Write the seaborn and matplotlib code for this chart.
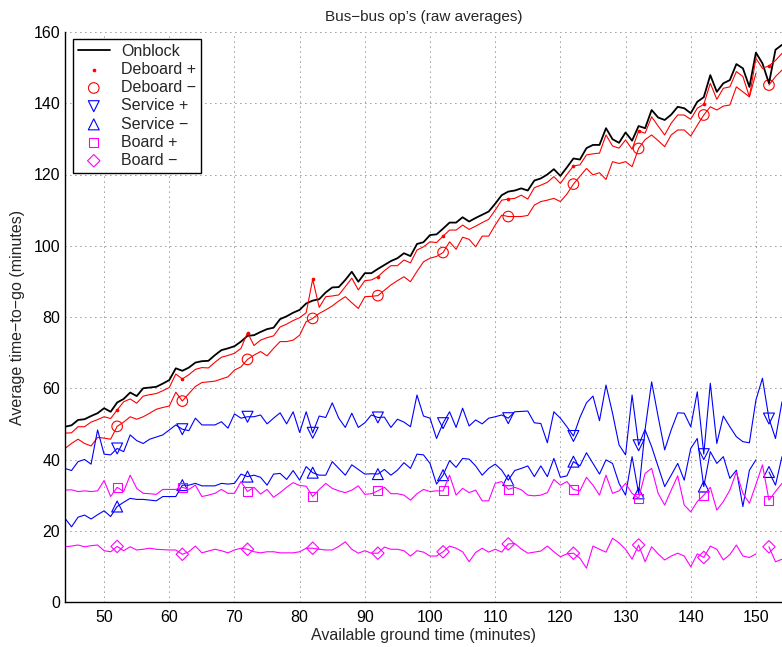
import numpy as np
import seaborn as sns
import matplotlib
matplotlib.use('Agg')
import matplotlib.pyplot as plt

nan = np.nan

# available ground time, one value per minute
minutes = list(range(44, 155))
marker_minutes = list(range(52, 153, 10))

onblock = [49.2, 49.6, 51.1, 51.3, 52.2, 53.0, 54.4, 53.4, 56.0, 57.0,
           58.8, 57.8, 60.0, 60.2, 60.4, 61.3, 62.3, 65.6, 64.9, 65.8,
           67.2, 67.6, 67.7, 69.3, 70.7, 71.2, 71.8, 73.1, 74.7, 74.9,
           75.8, 76.6, 77.0, 79.4, 80.2, 81.2, 82.0, 83.8, 84.6, 85.0,
           86.9, 88.3, 88.4, 90.4, 92.7, 89.9, 92.3, 92.3, 93.5, 94.6,
           95.7, 96.5, 97.9, 97.1, 100.5, 101.0, 103.0, 103.2, 104.8, 106.5,
           106.5, 108.0, 106.8, 107.8, 108.7, 109.6, 111.8, 114.2, 115.2, 115.5,
           116.1, 115.5, 118.3, 118.9, 120.0, 121.5, 119.6, 122.0, 124.5, 124.2,
           127.4, 128.3, 128.3, 133.0, 129.9, 128.9, 131.8, 129.5, 133.6, 133.0,
           138.1, 136.0, 135.3, 136.8, 139.0, 138.6, 137.2, 140.4, 141.7, 147.9,
           143.2, 145.6, 146.5, 151.0, 149.8, 144.6, 154.2, 151.2, 145.6, 155.0,
           156.4]

deboard_plus = [47.4, 47.5, 49.2, 49.2, 50.5, 51.2, 52.0, 51.5, 53.9, 56.2,
                57.0, 55.8, 57.8, 58.2, 58.5, 59.3, 60.2, 64.0, 62.6, 63.8,
                65.3, 65.8, 65.7, 67.3, 68.7, 69.2, 69.8, 71.2, 75.6, 72.0,
                73.5, 74.2, 74.7, 77.2, 78.0, 79.0, 79.8, 81.2, 90.6, 82.7,
                85.7, 85.9, 86.2, 88.5, 90.9, 87.6, 90.2, 90.4, 91.3, 93.0,
                94.4, 94.4, 96.0, 95.2, 98.8, 99.7, 101.1, 100.9, 102.7, 104.4,
                104.4, 105.8, 104.6, 105.5, 106.5, 107.4, 110.0, 112.8, 113.1, 113.3,
                114.2, 113.1, 116.3, 117.0, 117.8, 119.4, 117.5, 120.0, 122.4, 122.7,
                125.5, 125.8, 126.0, 131.1, 128.0, 127.4, 129.7, 127.1, 132.2, 131.6,
                136.2, 133.6, 131.1, 134.4, 136.7, 136.7, 135.5, 138.6, 139.7, 145.6,
                141.1, 144.2, 144.6, 148.9, 147.5, 141.8, 152.6, 149.8, 150.5, 152.0,
                154.0]

deboard_minus = [43.1, 44.5, 45.7, 44.5, 43.8, 46.2, 46.0, 45.7, 49.3, 50.5,
                 52.0, 51.3, 52.0, 53.0, 54.1, 54.6, 55.0, 58.9, 56.4, 58.5,
                 60.5, 61.6, 61.8, 62.0, 62.6, 63.2, 65.1, 66.0, 68.1, 69.3,
                 70.3, 69.1, 71.2, 73.1, 73.1, 73.5, 74.9, 78.7, 79.6, 81.0,
                 82.0, 83.1, 84.5, 85.7, 84.0, 82.4, 85.7, 85.8, 86.0, 87.5,
                 89.0, 90.2, 91.3, 89.9, 92.8, 95.5, 96.5, 97.0, 98.1, 101.1,
                 99.0, 102.4, 101.8, 99.7, 102.7, 102.7, 105.8, 108.6, 108.2, 108.2,
                 108.2, 108.5, 111.4, 112.4, 112.8, 113.3, 112.4, 114.5, 117.3, 119.5,
                 121.7, 119.9, 120.5, 118.6, 123.6, 123.1, 123.6, 122.2, 127.3, 129.8,
                 131.1, 129.5, 127.8, 131.1, 132.5, 132.5, 130.8, 133.8, 136.7, 139.0,
                 138.1, 139.2, 139.5, 144.6, 143.2, 141.8, 148.4, nan, 145.1, 147.5,
                 149.3]

service_plus = [37.5, 36.9, 39.4, 40.0, 38.7, 48.3, 41.5, 41.3, 43.1, 42.2,
                46.9, 45.3, 44.5, 45.7, 46.3, 46.9, 48.3, 49.7, 48.5, 48.1,
                51.6, 49.7, 49.7, 49.7, 50.6, 48.8, 52.8, 51.6, 52.0, 52.0,
                52.5, 50.0, 51.6, 53.1, 50.0, 53.4, 47.6, 53.4, 47.5, 52.2,
                51.8, 55.9, 51.6, 49.0, 53.0, 49.0, 50.3, 52.5, 51.8, 51.9,
                49.0, 51.3, 50.5, 49.2, 58.1, 52.2, 51.6, 45.9, 50.2, 53.4,
                49.0, 54.4, 49.4, 51.1, 50.0, 51.6, 52.0, 52.5, 51.6, 53.4,
                53.5, 53.6, 50.3, 50.1, 44.7, 53.4, 51.6, 49.2, 46.6, 51.8,
                55.9, 57.8, 50.9, 60.9, 53.0, 44.1, 41.3, 58.1, 44.0, 48.5,
                61.8, 52.0, 42.7, 48.3, 53.1, 53.0, 49.2, 59.0, 41.5, 61.4,
                44.5, 52.2, 49.2, 46.4, 45.0, 44.7, 56.7, 62.8, 51.5, 45.9,
                56.2]

service_minus = [23.5, 21.1, 23.8, 24.4, 23.3, 24.5, 25.6, 24.0, 26.8, 28.0,
                 29.1, 28.8, 28.8, 28.6, 28.4, 29.6, 29.6, 29.6, 32.8, 32.8,
                 33.3, 32.6, 32.6, 32.6, 33.3, 33.1, 33.3, 35.9, 35.2, 35.6,
                 35.0, 32.8, 35.9, 36.1, 34.4, 36.9, 34.2, 38.0, 36.3, 35.6,
                 35.6, 39.4, 37.5, 35.6, 38.5, 37.2, 35.9, 36.0, 35.9, 37.2,
                 35.6, 37.0, 39.1, 37.5, 41.5, 41.3, 38.9, 33.1, 35.6, 39.7,
                 37.8, 40.3, 40.1, 38.2, 35.6, 37.5, 38.7, 37.0, 34.2, 36.9,
                 37.5, 38.2, 35.2, 38.2, 35.2, 40.3, 35.0, 35.4, 39.4, 38.2,
                 41.9, 38.9, 35.9, 39.9, 38.9, 33.3, 30.0, 40.8, 30.5, 48.3,
                 43.6, 38.0, 32.4, 35.6, 38.9, 34.2, 43.1, 45.9, 32.4, 42.2,
                 38.9, 40.8, 34.7, 37.0, 26.8, 37.0, 39.9, nan, 36.5, 32.8,
                 40.8]

board_plus = [31.4, 31.5, 31.0, 31.2, 31.0, 31.2, 34.1, 29.6, 32.2, 31.0,
              35.6, 31.9, 30.5, 30.4, 30.2, 31.6, 31.6, 31.6, 32.2, 31.6,
              32.8, 29.6, 30.0, 30.5, 31.6, 30.5, 30.5, 33.8, 31.0, 32.2,
              30.3, 31.6, 29.4, 30.7, 32.2, 33.5, 32.7, 32.5, 29.6, 31.6,
              33.3, 31.9, 31.2, 30.7, 31.4, 32.6, 30.2, 30.4, 31.2, 32.2,
              30.4, 30.4, 30.0, 28.6, 30.4, 31.6, 31.0, 31.2, 31.2, 35.6,
              30.0, 31.9, 30.7, 31.4, 28.4, 28.4, 33.3, 33.8, 31.6, 32.2,
              31.5, 30.0, 29.8, 30.0, 30.7, 34.4, 32.8, 33.8, 31.6, 31.2,
              35.0, 32.8, 30.0, 35.6, 30.5, 31.2, 33.3, 30.5, 29.1, 36.1,
              37.5, 30.5, 27.2, 31.4, 35.4, 27.2, 25.3, 28.2, 30.0, 32.2,
              25.8, 28.2, 31.4, 36.5, 30.5, 27.7, 33.0, 38.5, 28.6, 31.0,
              33.3]

board_minus = [15.5, 15.7, 16.0, 15.5, 15.8, 16.0, 14.4, 14.1, 15.6, 14.4,
               15.5, 14.6, 14.8, 15.1, 14.8, 14.7, 14.6, 14.6, 13.4, 14.1,
               15.7, 13.8, 14.3, 14.8, 14.4, 13.8, 14.6, 15.1, 14.8, 14.1,
               13.8, 14.1, 14.1, 13.8, 13.8, 13.8, 14.1, 15.1, 15.1, 14.8,
               14.6, 14.6, 15.6, 16.9, 14.8, 13.7, 14.4, 13.7, 13.7, 15.4,
               14.8, 14.8, 14.4, 12.9, 14.4, 14.0, 12.9, 12.9, 14.1, 15.7,
               15.1, 14.1, 11.3, 13.9, 15.1, 14.0, 14.8, 14.0, 16.3, 16.4,
               14.9, 13.7, 14.0, 14.3, 15.7, 14.1, 12.7, 13.5, 13.7, 12.3,
               9.5, 15.7, 14.8, 14.0, 17.9, 16.6, 14.8, 12.0, 16.0, 11.3,
               15.5, 13.5, 11.8, 12.9, 13.7, 12.9, 9.9, 13.5, 12.5, 15.7,
               14.8, 11.8, 13.3, 16.0, 12.9, 12.5, 13.5, nan, 15.5, 11.3,
               12.0]

series = [
    ('Deboard +', deboard_plus, 'red', '.', 7),
    ('Deboard \u2212', deboard_minus, 'red', 'o', 58),
    ('Service +', service_plus, 'blue', 'v', 62),
    ('Service \u2212', service_minus, 'blue', '^', 62),
    ('Board +', board_plus, 'magenta', 's', 42),
    ('Board \u2212', board_minus, 'magenta', 'D', 40),
]

sns.set_style('white')
plt.rcParams['font.family'] = ['Liberation Sans', 'DejaVu Sans']
plt.rcParams['axes.unicode_minus'] = True

fig = plt.figure(figsize=(7.82, 6.47), dpi=100)
ax = fig.add_axes([65 / 782, 45 / 647, 717 / 782, 570 / 647])

handles = []
h, = ax.plot(minutes, onblock, color='black', lw=1.3, label='Onblock')
handles.append(h)

for name, vals, col, mk, size in series:
    ax.plot(minutes, vals, color=col, lw=0.8)
    idx = [minutes.index(m) for m in marker_minutes]
    mx = [minutes[i] for i in idx]
    my = [vals[i] for i in idx]
    if mk == '.':
        sns.scatterplot(x=mx, y=my, ax=ax, marker='o', color=col,
                        s=size, edgecolor=col, linewidth=0, label=name)
    else:
        sns.scatterplot(x=mx, y=my, ax=ax, marker=mk, s=size,
                        facecolors='none', edgecolor=col,
                        linewidth=0.8, label=name)
    handles.append(ax.collections[-1])

ax.set_xlim(44, 154)
ax.set_ylim(0, 160)
ax.set_xticks(range(50, 151, 10))
ax.set_yticks(range(0, 161, 20))
ax.set_xticks(range(44, 155), minor=True)
ax.tick_params(axis='both', which='major', direction='in', length=5,
               width=1, colors='black', labelsize=11.5)
ax.tick_params(axis='x', which='minor', direction='in', length=2.5, width=0.8)
ax.tick_params(axis='x', pad=6)

ax.grid(True, which='major', color='#333333', linestyle=(0, (1, 5)), lw=0.6)
for s in ['top', 'right']:
    ax.spines[s].set_visible(False)
for s in ['left', 'bottom']:
    ax.spines[s].set_color('black')
    ax.spines[s].set_linewidth(1.0)

ax.set_title('Bus\u2212bus op\u2019s (raw averages)', fontsize=11, pad=8)
ax.set_xlabel('Available ground time (minutes)', fontsize=11.5, labelpad=2)
ax.set_ylabel('Average time\u2212to\u2212go (minutes)', fontsize=11.5, labelpad=6)

leg = ax.legend(handles=handles, labels=[h.get_label() for h in handles],
                loc='upper left', bbox_to_anchor=(8 / 717, 1 - 7 / 570),
                borderaxespad=0, fontsize=11.5, frameon=True, fancybox=False,
                framealpha=1, edgecolor='black', labelspacing=0.2,
                handlelength=2.0, handletextpad=0.7, borderpad=0.3,
                scatterpoints=1)
leg.get_frame().set_linewidth(1.0)

fig.savefig('out.png', dpi=100)
